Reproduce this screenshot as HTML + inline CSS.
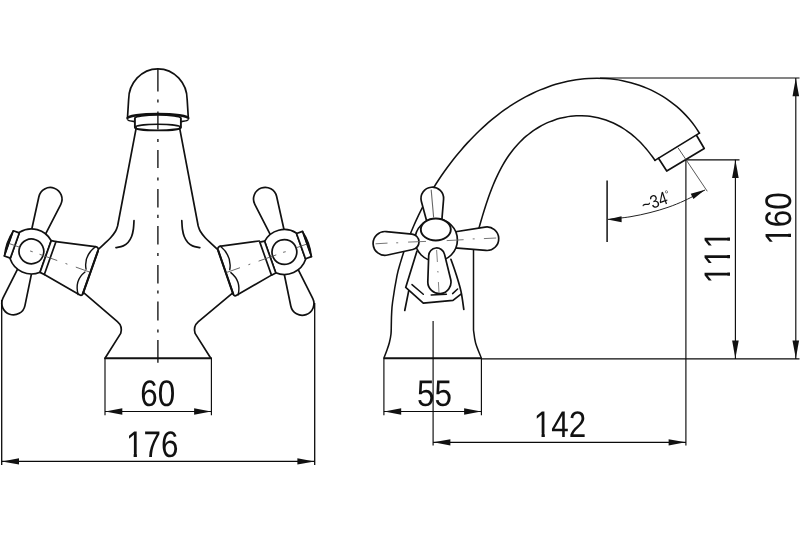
<!DOCTYPE html>
<html lang="en">
<head>
<meta charset="utf-8">
<title>Basin mixer dimensional drawing</title>
<style>
html,body{margin:0;padding:0;background:#fff;}
body{width:800px;height:534px;overflow:hidden;}
svg{display:block;}
svg text{font-family:"Liberation Sans",sans-serif;fill:#111;text-rendering:geometricPrecision;font-kerning:none;}
svg{filter:grayscale(1);}
</style>
</head>
<body>
<svg width="800" height="534" viewBox="0 0 800 534" role="img" aria-label="Basin mixer dimensional drawing">
<rect width="800" height="534" fill="#fff"/>
<path d="M127.4,119.3 L128.6,100 A29.3,31.2 0 0 1 187.2,100 L188.4,119.3" fill="#fff" stroke="#111" stroke-width="1.7" stroke-linejoin="round"/>
<path d="M127.4,118.6 A30.5,4.6 0 0 1 188.4,118.6" fill="none" stroke="#111" stroke-width="2.5"/>
<path d="M127.4,119.2 A30.5,3.6 0 0 0 188.4,119.2" fill="none" stroke="#111" stroke-width="1.4"/>
<path d="M134.9,118.3 L134.9,127.4 A23,3 0 0 0 180.9,127.4 L180.9,118.3 A23,3.4 0 0 0 134.9,118.3Z" fill="#fff" stroke="#111" stroke-width="1.9"/>
<path d="M134.9,127.4 A23,3.2 0 0 1 180.9,127.4" fill="none" stroke="#111" stroke-width="1.5"/>
<g fill="none" stroke="#111" stroke-width="1.7" stroke-linejoin="round" stroke-linecap="round">
<path d="M136.2,127.8 L117.6,226  C117.25,226.88 116.67,229.33 115.5,231.3 C114.33,233.27 112.43,235.75 110.6,237.8 C108.77,239.85 106.5,241.72 104.5,243.6 C102.5,245.48 99.58,248.18 98.6,249.1"/>
<path d="M134,220.7 C133.9,222.08 133.8,226.37 133.4,229 C133,231.63 132.5,234.25 131.6,236.5 C130.7,238.75 129.38,240.93 128,242.5 C126.62,244.07 125.3,245.05 123.3,245.9 C121.3,246.75 117.22,247.32 116,247.6"/>
<path d="M83.6,292.6 L117.4,321.6 Q122.9,326.3 120.7,333.4 L105,358.2"/>
<g transform="translate(31.4 251.4) rotate(19.5)">
<path d="M6.74,-15.11 L11.99,-53.93 A11.7,11.7 0 1 0 -11.21,-54.05 L-6.35,-15.18 A6.6,6.6 0 0 0 6.74,-15.11 Z" fill="#fff"/>
<path d="M-6.35,15.17 L-11.21,53.32 A11.7,11.7 0 1 0 11.99,53.2 L6.74,15.1 A6.6,6.6 0 0 0 -6.35,15.17 Z" fill="#fff"/>
<path d="M-17.6,-14.02 A22.5,22.5 0 0 1 15.1,-16.68 L15.1,16.68 A22.5,22.5 0 0 1 -17.6,14.02 Z" fill="#fff"/>
<circle cx="0" cy="0" r="12.4" fill="none"/>
<path d="M-17.6,-13.4 L-24,-13.4 L-24,13.4 L-17.6,13.4 Z" fill="#fff"/>
<path d="M-24,-13.4 Q-27.4,0 -24,13.4 Z" fill="#111" stroke-width="1.2"/>
<path d="M19.9,-17.5 L58.4,-25.8 Q62.6,-26.7 62.6,-22.5 L62.6,22.6 Q62.6,25.4 59.8,24.88 L19.9,17.5" fill="#fff"/>
<path d="M62.6,-22.5 L62.6,22.6" stroke-width="2.1"/>
<path d="M15.1,-16.8 L19.9,-17.5 L19.9,17.5 L15.1,16.9 Z" fill="#fff"/>
<path d="M59,-26.1 Q50.6,-13.5 57.4,-1.6" fill="none" stroke-width="1.4"/>
<path d="M58.4,25 Q50.2,13 57.4,1.6" fill="none" stroke-width="1.4"/>
<line x1="-22.5" y1="0" x2="-13" y2="0" stroke="#555" stroke-width="0.8"/>
<line x1="9" y1="0" x2="27" y2="0" stroke="#555" stroke-width="0.8"/>
<line x1="36.6" y1="0" x2="37.8" y2="0" stroke="#555" stroke-width="0.8"/>
<line x1="47.5" y1="0" x2="61" y2="0" stroke="#555" stroke-width="0.8"/>
<line x1="-1" y1="0" x2="1" y2="0" stroke="#777" stroke-width="1"/>
</g></g>
<g fill="none" stroke="#111" stroke-width="1.7" stroke-linejoin="round" stroke-linecap="round" transform="translate(315.8 0) scale(-1 1)">
<path d="M136.2,127.8 L117.6,226  C117.25,226.88 116.67,229.33 115.5,231.3 C114.33,233.27 112.43,235.75 110.6,237.8 C108.77,239.85 106.53,241.7 104.5,243.6 C102.47,245.5 99.42,248.27 98.4,249.2"/>
<path d="M134,220.7 C133.9,222.08 133.8,226.37 133.4,229 C133,231.63 132.5,234.25 131.6,236.5 C130.7,238.75 129.38,240.93 128,242.5 C126.62,244.07 125.3,245.05 123.3,245.9 C121.3,246.75 117.22,247.32 116,247.6"/>
<path d="M83.3,293.2 L117.4,321.6 Q122.9,326.3 120.7,333.4 L105,358.2"/>
<g transform="translate(31.4 252) rotate(19.5)">
<path d="M6.74,-15.13 L12,-54.76 A11.7,11.7 0 1 0 -11.21,-54.88 L-6.35,-15.2 A6.6,6.6 0 0 0 6.74,-15.13 Z" fill="#fff"/>
<path d="M-6.35,15.16 L-11.21,53.11 A11.7,11.7 0 1 0 11.99,52.99 L6.74,15.09 A6.6,6.6 0 0 0 -6.35,15.16 Z" fill="#fff"/>
<path d="M-17.6,-14.02 A22.5,22.5 0 0 1 15.1,-16.68 L15.1,16.68 A22.5,22.5 0 0 1 -17.6,14.02 Z" fill="#fff"/>
<circle cx="0" cy="0" r="12.4" fill="none"/>
<path d="M-17.6,-13.4 L-24,-13.4 L-24,13.4 L-17.6,13.4 Z" fill="#fff"/>
<path d="M-24,-13.4 Q-27.4,0 -24,13.4 Z" fill="#111" stroke-width="1.2"/>
<path d="M19.9,-18.7 L57.7,-26.71 Q61.9,-27.6 61.93,-23.4 L62.28,22.6 Q62.3,25.4 59.5,24.88 L19.9,17.5" fill="#fff"/>
<path d="M61.93,-23.4 L62.28,22.6" stroke-width="2.1"/>
<path d="M15.1,-16.8 L19.9,-17.5 L19.9,17.5 L15.1,16.9 Z" fill="#fff"/>
<path d="M58.5,-27 Q50.6,-13.5 57.4,-1.6" fill="none" stroke-width="1.4"/>
<path d="M57.9,25 Q50.2,13 57.4,1.6" fill="none" stroke-width="1.4"/>
<line x1="-22.5" y1="0" x2="-13" y2="0" stroke="#555" stroke-width="0.8"/>
<line x1="9" y1="0" x2="27" y2="0" stroke="#555" stroke-width="0.8"/>
<line x1="36.6" y1="0" x2="37.8" y2="0" stroke="#555" stroke-width="0.8"/>
<line x1="47.5" y1="0" x2="61" y2="0" stroke="#555" stroke-width="0.8"/>
<line x1="-1" y1="0" x2="1" y2="0" stroke="#777" stroke-width="1"/>
</g></g>
<line x1="104.6" y1="358.2" x2="211.8" y2="358.2" stroke="#111" stroke-width="2"/>
<line x1="157.9" y1="69" x2="157.9" y2="91.5" stroke="#111" stroke-width="1.35"/>
<line x1="157.9" y1="111.5" x2="157.9" y2="129.5" stroke="#111" stroke-width="1.35"/>
<line x1="157.9" y1="150" x2="157.9" y2="168" stroke="#111" stroke-width="1.35"/>
<line x1="157.9" y1="189" x2="157.9" y2="207.5" stroke="#111" stroke-width="1.35"/>
<line x1="157.9" y1="226" x2="157.9" y2="244.5" stroke="#111" stroke-width="1.35"/>
<line x1="157.9" y1="265" x2="157.9" y2="283.5" stroke="#111" stroke-width="1.35"/>
<line x1="157.9" y1="301.5" x2="157.9" y2="320.5" stroke="#111" stroke-width="1.35"/>
<line x1="157.9" y1="340" x2="157.9" y2="362.7" stroke="#111" stroke-width="1.35"/>
<line x1="157.9" y1="99.4" x2="157.9" y2="102.6" stroke="#111" stroke-width="1.35"/>
<line x1="157.9" y1="138.9" x2="157.9" y2="142.1" stroke="#111" stroke-width="1.35"/>
<line x1="157.9" y1="177.4" x2="157.9" y2="180.6" stroke="#111" stroke-width="1.35"/>
<line x1="157.9" y1="214.7" x2="157.9" y2="217.9" stroke="#111" stroke-width="1.35"/>
<line x1="157.9" y1="252.9" x2="157.9" y2="256.1" stroke="#111" stroke-width="1.35"/>
<line x1="157.9" y1="290.4" x2="157.9" y2="293.6" stroke="#111" stroke-width="1.35"/>
<line x1="157.9" y1="329.4" x2="157.9" y2="332.6" stroke="#111" stroke-width="1.35"/>
<line x1="105" y1="358" x2="105" y2="415.3" stroke="#0a0a0a" stroke-width="1.15"/>
<line x1="211.4" y1="358" x2="211.4" y2="415.3" stroke="#0a0a0a" stroke-width="1.15"/>
<line x1="105" y1="411.5" x2="211.4" y2="411.5" stroke="#0a0a0a" stroke-width="1.15"/>
<path d="M105.3,411.5 L122.3,408.3 L122.3,414.7Z" fill="#111"/>
<path d="M211.1,411.5 L194.1,414.7 L194.1,408.3Z" fill="#111"/>
<text transform="translate(157.7 406.3) scale(0.85 1)" font-size="37" text-anchor="middle">60</text>
<line x1="1.7" y1="300" x2="1.7" y2="465" stroke="#0a0a0a" stroke-width="1.3"/>
<line x1="314.7" y1="303" x2="314.7" y2="465" stroke="#0a0a0a" stroke-width="1.3"/>
<line x1="1.7" y1="461.4" x2="314.7" y2="461.4" stroke="#0a0a0a" stroke-width="1.15"/>
<path d="M2,461.4 L19,458.3 L19,464.5Z" fill="#111"/>
<path d="M314.4,461.4 L297.4,464.5 L297.4,458.3Z" fill="#111"/>
<clipPath id="c1"><path d="M-32.87,-37 h65.73 v33.49 h-65.73 Z M-21.86,-4.01 h3.87 v4.51 h-3.87 Z M-10.29,-4.01 h20.58 v6.51 h-20.58 Z M10.29,-4.01 h20.58 v6.51 h-20.58 Z"/></clipPath>
<text transform="translate(152.2 457) scale(0.85 1)" font-size="37" text-anchor="middle" clip-path="url(#c1)">176</text>
<g fill="none" stroke="#111" stroke-width="1.7" stroke-linejoin="round" stroke-linecap="round">
<path d="M383.9,358 C384.42,356.67 386.08,352.58 387,350 C387.92,347.42 388.73,345.17 389.4,342.5 C390.07,339.83 390.68,336.92 391,334 C391.32,331.08 391.2,328.33 391.3,325 C391.4,321.67 391.38,317.83 391.6,314 C391.82,310.17 391.7,308.4 392.6,302 C393.5,295.6 395.67,282.25 397,275.61 C398.33,268.96 399.34,266.5 400.6,262.14 C401.87,257.78 403.22,253.56 404.6,249.45 C405.99,245.35 407.45,241.37 408.94,237.51 C410.42,233.64 411.97,229.9 413.54,226.26 C415.11,222.62 416.73,219.09 418.37,215.66 C420.01,212.24 421.68,208.92 423.38,205.68 C425.07,202.45 426.8,199.32 428.54,196.27 C430.28,193.22 432.04,190.26 433.82,187.38 C435.6,184.49 437.4,181.7 439.21,178.97 C441.02,176.24 442.85,173.59 444.69,171 C446.53,168.41 448.38,165.9 450.25,163.44 C452.12,160.98 454,158.59 455.89,156.25 C457.79,153.92 459.69,151.64 461.62,149.41 C463.54,147.19 465.48,145.02 467.43,142.89 C469.39,140.77 471.35,138.7 473.34,136.67 C475.33,134.65 477.34,132.67 479.36,130.74 C481.39,128.81 483.43,126.92 485.5,125.08 C487.57,123.24 489.66,121.44 491.77,119.69 C493.88,117.93 496.02,116.22 498.18,114.56 C500.35,112.9 502.54,111.28 504.76,109.71 C506.97,108.13 509.22,106.61 511.49,105.13 C513.77,103.65 516.07,102.22 518.41,100.84 C520.74,99.46 523.11,98.13 525.51,96.85 C527.9,95.58 530.33,94.35 532.79,93.19 C535.25,92.03 537.74,90.91 540.26,89.87 C542.79,88.82 545.34,87.83 547.92,86.91 C550.5,85.99 553.12,85.13 555.75,84.34 C558.39,83.55 561.06,82.83 563.75,82.18 C566.44,81.53 569.16,80.96 571.9,80.46 C574.64,79.97 577.4,79.54 580.18,79.21 C582.96,78.87 585.76,78.61 588.56,78.44 C591.37,78.27 594.2,78.19 597.02,78.19 C599.85,78.2 602.69,78.29 605.53,78.47 C608.36,78.66 611.21,78.93 614.04,79.3 C616.87,79.67 619.7,80.14 622.51,80.7 C625.33,81.26 628.13,81.92 630.91,82.67 C633.69,83.43 636.45,84.28 639.18,85.23 C641.91,86.18 644.62,87.23 647.28,88.37 C649.94,89.52 652.57,90.76 655.15,92.1 C657.73,93.44 660.26,94.88 662.74,96.41 C665.21,97.94 667.64,99.56 670,101.27 C672.35,102.98 674.65,104.79 676.87,106.68 C679.08,108.57 681.23,110.55 683.29,112.6 C685.35,114.66 687.34,116.8 689.23,119.01 C691.12,121.22 692.92,123.51 694.62,125.86 C696.32,128.21 698.62,131.91 699.42,133.12" fill="none" stroke="#111" stroke-width="1.55"/>
<path d="M479,227.95 C479.28,226.94 480.14,223.89 480.71,221.92 C481.28,219.95 481.85,218.02 482.42,216.12 C482.99,214.22 483.57,212.36 484.14,210.52 C484.72,208.68 485.3,206.87 485.89,205.08 C486.47,203.3 487.06,201.53 487.66,199.79 C488.26,198.04 488.87,196.32 489.49,194.61 C490.11,192.9 490.74,191.21 491.39,189.53 C492.03,187.85 492.69,186.19 493.37,184.54 C494.05,182.89 494.75,181.25 495.47,179.62 C496.18,178 496.92,176.39 497.69,174.79 C498.45,173.19 499.24,171.6 500.06,170.03 C500.88,168.46 501.72,166.9 502.6,165.36 C503.48,163.81 504.38,162.29 505.33,160.78 C506.27,159.27 507.24,157.78 508.25,156.31 C509.26,154.84 510.3,153.38 511.38,151.96 C512.47,150.53 513.58,149.13 514.74,147.75 C515.9,146.37 517.09,145.02 518.32,143.71 C519.55,142.39 520.82,141.1 522.13,139.85 C523.43,138.59 524.78,137.37 526.16,136.2 C527.54,135.02 528.96,133.87 530.42,132.78 C531.87,131.68 533.36,130.62 534.89,129.61 C536.41,128.6 537.97,127.64 539.56,126.72 C541.15,125.81 542.77,124.95 544.41,124.14 C546.06,123.33 547.74,122.57 549.44,121.87 C551.14,121.17 552.86,120.52 554.61,119.94 C556.35,119.35 558.12,118.83 559.9,118.36 C561.68,117.9 563.48,117.49 565.29,117.15 C567.09,116.81 568.92,116.53 570.74,116.31 C572.57,116.1 574.4,115.94 576.24,115.85 C578.07,115.77 579.91,115.74 581.74,115.78 C583.57,115.82 585.4,115.93 587.22,116.09 C589.04,116.26 590.86,116.49 592.65,116.78 C594.45,117.07 596.24,117.42 598.01,117.83 C599.78,118.25 601.53,118.72 603.26,119.25 C604.98,119.78 606.69,120.36 608.37,121 C610.05,121.64 611.71,122.34 613.34,123.08 C614.96,123.83 616.56,124.62 618.13,125.46 C619.69,126.31 621.23,127.2 622.72,128.13 C624.22,129.05 625.69,130.03 627.12,131.04 C628.55,132.05 629.95,133.1 631.31,134.18 C632.66,135.26 633.99,136.38 635.28,137.53 C636.56,138.67 637.81,139.85 639.03,141.04 C640.25,142.24 641.43,143.46 642.58,144.7 C643.73,145.95 644.84,147.21 645.92,148.49 C647.01,149.77 648.06,151.06 649.09,152.37 C650.11,153.68 651.11,155 652.09,156.33 C653.06,157.66 654.47,159.68 654.94,160.35" fill="none" stroke="#111" stroke-width="1.55"/>
<path d="M654.94,160.35 L699.42,133.12" fill="none" stroke="#111" stroke-width="1.7"/>
<path d="M658.5,158.25 L666.75,171 L704.25,148.5 L696.75,135.75" fill="none" stroke="#111" stroke-width="1.7"/>
<path d="M473.5,248 L473.5,330  C473.85,332.17 474.3,338.33 475.6,343 C476.9,347.67 480.35,355.5 481.3,358" fill="none" stroke="#111" stroke-width="1.5"/>
<path d="M416.9,251.2 L405.7,287.4 L423.3,303.2 L453,300.4 L461,294.2" fill="none" stroke="#111" stroke-width="1.7"/>
<path d="M412,284.6 L423.3,294.2" fill="none" stroke="#111" stroke-width="1.5"/>
<path d="M431.2,295 L446.4,294.2" fill="none" stroke="#111" stroke-width="1.5"/>
<path d="M452.6,293.6 L457.6,289" fill="none" stroke="#111" stroke-width="1.5"/>
<path d="M408.7,290.8 L404.75,310.5" fill="none" stroke="#111" stroke-width="1.7"/>
<path d="M450.9,259.25 C451.75,261.71 454.32,268.64 456,274 C457.68,279.36 459.7,285.5 461,291.4 C462.3,297.3 463.33,306.4 463.8,309.4" fill="none" stroke="#111" stroke-width="1.7"/>
<path d="M451.37,247.57 L485.92,250.46 A11.8,11.8 0 1 0 485.05,227.05 L450.81,232.49 A7.6,7.6 0 0 0 451.37,247.57 Z" fill="#fff" stroke="#111" stroke-width="1.7"/>
<path d="M441.48,224.57 L443.56,199.43 A11.3,11.3 0 1 0 421.39,201.43 L427.94,225.79 A6.9,6.9 0 0 0 441.48,224.57 Z" fill="#fff" stroke="#111" stroke-width="1.7"/>
<line x1="431.2" y1="190" x2="433.6" y2="217" stroke="#666" stroke-width="1.1"/>
<circle cx="436.2" cy="240" r="21.2" fill="#fff"/>
<ellipse cx="435.8" cy="229.5" rx="15" ry="11" fill="#fff" stroke-width="1.9"/>
<path d="M411.98,234.14 L386.18,231.56 A11.9,11.9 0 1 0 387.53,255.03 L412.86,249.52 A7.8,7.8 0 0 0 411.98,234.14 Z" fill="#fff" stroke="#111" stroke-width="1.7"/>
<path d="M428.7,255.72 L427.81,281.6 A11.6,11.6 0 1 0 450.66,279.22 L444.47,254.09 A8,8 0 0 0 428.7,255.72 Z" fill="#fff" stroke="#111" stroke-width="1.7"/>
</g>
<line x1="375.5" y1="243.8" x2="387.5" y2="243.1" stroke="#666" stroke-width="0.9"/>
<line x1="408.1" y1="242.1" x2="426" y2="241.4" stroke="#666" stroke-width="0.9"/>
<line x1="446.7" y1="240.6" x2="463.6" y2="239.7" stroke="#666" stroke-width="0.9"/>
<line x1="483.9" y1="238.6" x2="496.2" y2="238" stroke="#666" stroke-width="0.9"/>
<line x1="396.2" y1="242.8" x2="398.2" y2="242.8" stroke="#777" stroke-width="1"/>
<line x1="472.7" y1="238.9" x2="474.7" y2="238.9" stroke="#777" stroke-width="1"/>
<line x1="436.6" y1="250" x2="437.4" y2="262" stroke="#777" stroke-width="0.9"/>
<line x1="438.4" y1="282" x2="439" y2="293" stroke="#777" stroke-width="0.9"/>
<line x1="437.8" y1="271" x2="438" y2="272.5" stroke="#777" stroke-width="1"/>
<line x1="383.9" y1="358.2" x2="481.4" y2="358.2" stroke="#111" stroke-width="2"/>
<line x1="383.9" y1="358" x2="383.9" y2="415.3" stroke="#0a0a0a" stroke-width="1.15"/>
<line x1="481.4" y1="358" x2="481.4" y2="415.3" stroke="#0a0a0a" stroke-width="1.15"/>
<line x1="383.9" y1="411.5" x2="481.4" y2="411.5" stroke="#0a0a0a" stroke-width="1.15"/>
<path d="M384.2,411.5 L401.2,408.3 L401.2,414.7Z" fill="#111"/>
<path d="M481.1,411.5 L464.1,414.7 L464.1,408.3Z" fill="#111"/>
<text transform="translate(434.6 406.3) scale(0.85 1)" font-size="37" text-anchor="middle">55</text>
<line x1="433.1" y1="321" x2="433.1" y2="445.6" stroke="#0a0a0a" stroke-width="1.15"/>
<line x1="685.9" y1="159.8" x2="685.9" y2="445.6" stroke="#0a0a0a" stroke-width="1.15"/>
<line x1="433.1" y1="442.3" x2="685.9" y2="442.3" stroke="#0a0a0a" stroke-width="1.15"/>
<path d="M433.4,442.3 L450.4,439.2 L450.4,445.4Z" fill="#111"/>
<path d="M685.6,442.3 L668.6,445.4 L668.6,439.2Z" fill="#111"/>
<clipPath id="c2"><path d="M-32.87,-37 h65.73 v33.49 h-65.73 Z M-21.86,-4.01 h3.87 v4.51 h-3.87 Z M-10.29,-4.01 h20.58 v6.51 h-20.58 Z M10.29,-4.01 h20.58 v6.51 h-20.58 Z"/></clipPath>
<text transform="translate(560.1 437) scale(0.85 1)" font-size="37" text-anchor="middle" clip-path="url(#c2)">142</text>
<line x1="481.4" y1="358.9" x2="799.5" y2="358.9" stroke="#0a0a0a" stroke-width="1.2"/>
<line x1="600" y1="78" x2="799.5" y2="78" stroke="#0a0a0a" stroke-width="1.2"/>
<line x1="685.9" y1="159.8" x2="739.5" y2="159.8" stroke="#0a0a0a" stroke-width="1.2"/>
<line x1="735.4" y1="159.8" x2="735.4" y2="358.9" stroke="#0a0a0a" stroke-width="1.15"/>
<path d="M735.4,160.1 L738.7,178.1 L732.1,178.1Z" fill="#111"/>
<path d="M735.4,358.6 L732.1,340.6 L738.7,340.6Z" fill="#111"/>
<line x1="795.8" y1="78" x2="795.8" y2="358.9" stroke="#0a0a0a" stroke-width="1.15"/>
<path d="M795.8,78.3 L799.1,96.3 L792.5,96.3Z" fill="#111"/>
<path d="M795.8,358.6 L792.5,340.6 L799.1,340.6Z" fill="#111"/>
<clipPath id="c3"><path d="M-32.87,-37 h65.73 v33.49 h-65.73 Z M-21.86,-4.01 h3.87 v4.51 h-3.87 Z M-1.28,-4.01 h3.87 v4.51 h-3.87 Z M19.29,-4.01 h3.87 v4.51 h-3.87 Z"/></clipPath>
<text transform="translate(730.3 257.2) rotate(-90) scale(0.85 1)" font-size="37" text-anchor="middle" clip-path="url(#c3)">111</text>
<clipPath id="c4"><path d="M-32.87,-37 h65.73 v33.49 h-65.73 Z M-21.86,-4.01 h3.87 v4.51 h-3.87 Z M-10.29,-4.01 h20.58 v6.51 h-20.58 Z M10.29,-4.01 h20.58 v6.51 h-20.58 Z"/></clipPath>
<text transform="translate(791 218.5) rotate(-90) scale(0.85 1)" font-size="37" text-anchor="middle" clip-path="url(#c4)">160</text>
<line x1="607.1" y1="180.6" x2="607.1" y2="241.9" stroke="#111" stroke-width="1.5"/>
<line x1="678" y1="147.75" x2="707.25" y2="191.25" stroke="#444" stroke-width="0.9"/>
<path d="M608,219.4 C611.67,218.97 623,217.93 630,216.8 C637,215.67 643.67,214.18 650,212.6 C656.33,211.02 662.17,209.33 668,207.3 C673.83,205.27 678.83,203.28 685,200.4 C691.17,197.52 701.67,191.73 705,190" fill="none" stroke="#222" stroke-width="1"/>
<path d="M607.6,219.6 L621.52,216.36 L621.67,222.16Z" fill="#111"/>
<path d="M705,189.8 L693.44,199.06 L690.72,193.71Z" fill="#111"/>
<text transform="translate(657.9 206.9) rotate(-19) scale(0.84 1)" font-size="18.5" text-anchor="middle">~34<tspan font-size="10.5" dy="-5.6" dx="-0.6">°</tspan></text>
</svg>
</body>
</html>
